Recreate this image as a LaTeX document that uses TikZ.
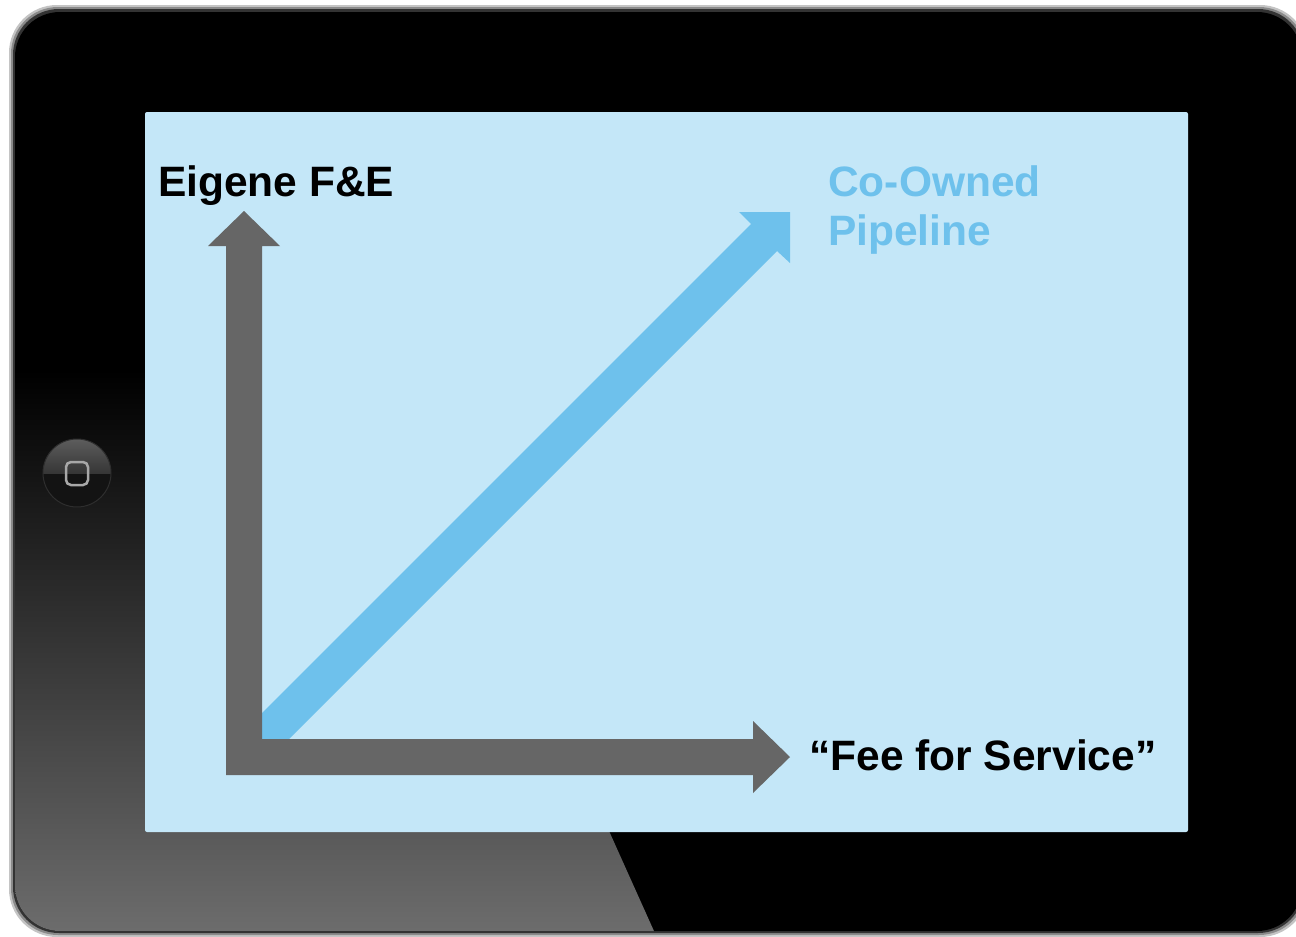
\documentclass[tikz,border=0pt]{standalone}
\usepackage{fontspec}
\setmainfont{Liberation Sans}
\definecolor{screenblue}{HTML}{C4E7F8}
\definecolor{arrowblue}{HTML}{6EC1EC}
\definecolor{arrowgray}{HTML}{666666}
\definecolor{rimlight}{HTML}{C4C4C4}
\definecolor{rimmid}{HTML}{8A8A8A}
\definecolor{rimdark}{HTML}{333333}
\definecolor{reflgray}{HTML}{6E6E6E}
\definecolor{btnlight}{HTML}{5E5E5E}
\definecolor{btnmid}{HTML}{363636}
\definecolor{btndark}{HTML}{131313}
\definecolor{btnrim}{HTML}{2E2E2E}
\definecolor{btnicon}{HTML}{A8A8A8}
\tikzset{
  labeltext/.style={anchor=base west, inner sep=0pt, font=\fontsize{42.5}{49}\selectfont\bfseries},
}
\begin{document}
\begin{tikzpicture}[x=1pt,y=-1pt]
\useasboundingbox (0,0) rectangle (1296,937);
\fill[white] (0,0) rectangle (1296,937);
% frame rim
\fill[rimlight, rounded corners=48] (9,5) rectangle (1308,937);
\fill[rimmid, rounded corners=47] (11,7) rectangle (1306,935);
\fill[rimdark, rounded corners=46] (13,9) rectangle (1304,933);
\fill[black, rounded corners=45] (15,12) rectangle (1302,931);
% reflection
\begin{scope}
  \clip[rounded corners=45] (15,12) rectangle (1302,931);
  \shade[top color=black, bottom color=reflgray] (0,370) -- (402,370) -- (658,940) -- (0,940) -- cycle;
\end{scope}
% home button
\coordinate (hb) at (77,473);
\fill[btndark] (hb) circle (34);
\begin{scope}
  \clip (hb) circle (34);
  \shade[top color=btnlight, bottom color=btnmid] (40,438) rectangle (115,473);
\end{scope}
\draw[btnrim, line width=1] (hb) circle (34);
\draw[btnicon, line width=2.5, rounded corners=5] (66,462) rectangle (88,485);
% screen
\fill[screenblue, rounded corners=2] (145,112) rectangle (1188,832);
% blue diagonal arrow
\coordinate (bt1) at (230.75,744.25);
\coordinate (bt2) at (257.25,770.75);
\coordinate (bn1) at (751,224);
\coordinate (bh1) at (739,212);
\coordinate (btip) at (790,212);
\coordinate (bh2) at (790,263);
\coordinate (bn2) at (777,251);
\fill[arrowblue] (bt1) -- (bn1) -- (bh1) -- (btip) -- (bh2) -- (bn2) -- (bt2) -- cycle;
% gray axes
\fill[arrowgray] (226,775) -- (226,246) -- (208,246) -- (244,211) -- (280,246) -- (262,246)
  -- (262,739) -- (753,739) -- (753,721) -- (790,757) -- (753,793) -- (753,775) -- cycle;
% labels
\node[labeltext] (eig) at (158,196) {Eigene F\&E};
\node[labeltext, text=arrowblue] (co1) at (828,196) {Co-Owned};
\node[labeltext, text=arrowblue] (co2) at (828,245) {Pipeline};
\node[labeltext] (fee) at (809,770) {“Fee for Service”};
\end{tikzpicture}
\end{document}
